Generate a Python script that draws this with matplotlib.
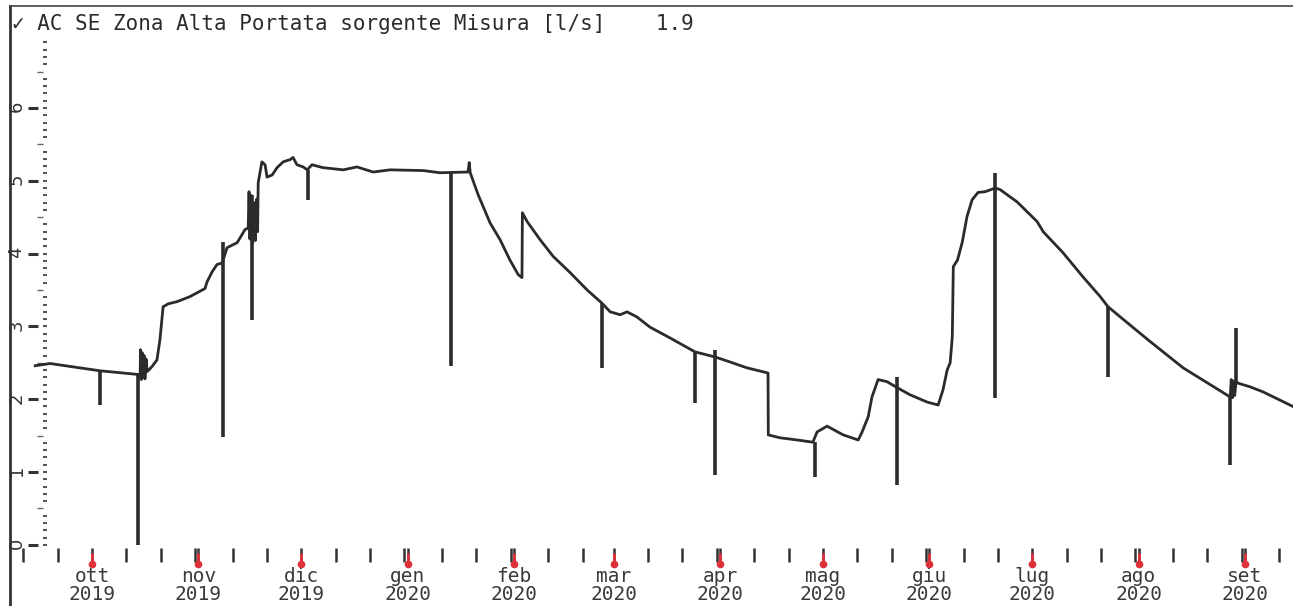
import matplotlib.pyplot as plt
import matplotlib.dates as mdates
from matplotlib.ticker import FixedLocator
import pandas as pd
import numpy as np

# Portata sorgente (l/s)
flow_time = [
    "2019-09-14 10:00", "2019-09-18 19:00", "2019-10-03 08:00", "2019-10-14 10:00",
    "2019-10-15 00:00", "2019-10-15 03:00", "2019-10-15 08:00", "2019-10-15 14:00",
    "2019-10-15 20:00", "2019-10-16 04:00", "2019-10-16 10:00", "2019-10-16 18:00",
    "2019-10-17 02:00", "2019-10-18 12:00", "2019-10-19 22:00", "2019-10-20 19:00",
    "2019-10-21 17:00", "2019-10-23 05:00", "2019-10-25 19:00", "2019-10-29 14:00",
    "2019-11-02 22:00", "2019-11-03 12:00", "2019-11-05 00:00", "2019-11-06 10:00",
    "2019-11-07 22:00", "2019-11-09 08:00", "2019-11-12 07:00", "2019-11-14 14:00",
    "2019-11-15 12:00", "2019-11-15 18:00", "2019-11-16 00:00", "2019-11-16 08:00",
    "2019-11-16 20:00", "2019-11-17 06:00", "2019-11-17 14:00", "2019-11-18 00:00",
    "2019-11-18 06:00", "2019-11-18 10:00", "2019-11-19 12:00", "2019-11-20 10:00",
    "2019-11-21 00:00", "2019-11-22 12:00", "2019-11-23 22:00", "2019-11-25 17:00",
    "2019-11-27 17:00", "2019-11-28 14:00", "2019-11-29 17:00", "2019-12-01 12:00",
    "2019-12-02 17:00", "2019-12-04 02:00", "2019-12-07 07:00", "2019-12-13 05:00",
    "2019-12-17 05:00", "2019-12-21 22:00", "2019-12-26 22:00", "2020-01-05 12:00",
    "2020-01-10 10:00", "2020-01-18 14:00", "2020-01-18 22:00", "2020-01-19 05:00",
    "2020-01-21 12:00", "2020-01-25 00:00", "2020-01-27 22:00", "2020-01-30 19:00",
    "2020-02-02 05:00", "2020-02-03 07:00", "2020-02-03 10:00", "2020-02-04 19:00",
    "2020-02-08 14:00", "2020-02-12 10:00", "2020-02-17 07:00", "2020-02-22 07:00",
    "2020-02-26 14:00", "2020-02-29 00:00", "2020-03-02 22:00", "2020-03-04 22:00",
    "2020-03-07 19:00", "2020-03-11 14:00", "2020-03-17 12:00", "2020-03-24 17:00",
    "2020-03-30 14:00", "2020-04-04 00:00", "2020-04-08 22:00", "2020-04-15 00:00",
    "2020-04-15 02:00", "2020-04-18 12:00", "2020-04-23 12:00", "2020-04-28 02:00",
    "2020-04-29 07:00", "2020-05-02 05:00", "2020-05-06 22:00", "2020-05-11 07:00",
    "2020-05-12 10:00", "2020-05-14 05:00", "2020-05-15 07:00", "2020-05-17 02:00",
    "2020-05-19 17:00", "2020-05-22 14:00", "2020-05-26 10:00", "2020-05-31 10:00",
    "2020-06-03 14:00", "2020-06-05 00:00", "2020-06-06 05:00", "2020-06-07 02:00",
    "2020-06-07 17:00", "2020-06-08 00:00", "2020-06-09 05:00", "2020-06-10 14:00",
    "2020-06-12 00:00", "2020-06-13 12:00", "2020-06-15 05:00", "2020-06-17 07:00",
    "2020-06-20 05:00", "2020-06-21 14:00", "2020-06-26 14:00", "2020-07-02 10:00",
    "2020-07-04 05:00", "2020-07-10 00:00", "2020-07-15 19:00", "2020-07-20 19:00",
    "2020-07-23 02:00", "2020-07-28 17:00", "2020-08-04 10:00", "2020-08-14 00:00",
    "2020-08-21 22:00", "2020-08-27 17:00", "2020-08-28 00:00", "2020-08-28 08:00",
    "2020-08-28 16:00", "2020-08-29 00:00", "2020-08-29 10:00", "2020-08-30 00:00",
    "2020-09-02 12:00", "2020-09-06 07:00", "2020-09-15 00:00",
]
flow_value = [
    2.46, 2.49, 2.39, 2.34,
    2.30, 2.68, 2.27, 2.64,
    2.30, 2.60, 2.28, 2.55,
    2.38, 2.45, 2.54, 2.82,
    3.27, 3.31, 3.34, 3.41,
    3.52, 3.61, 3.75, 3.85,
    3.87, 4.08, 4.15, 4.33,
    4.35, 4.85, 4.20, 4.80,
    4.15, 4.70, 4.18, 4.75,
    4.30, 4.97, 5.26, 5.22,
    5.05, 5.08, 5.18, 5.26,
    5.29, 5.32, 5.22, 5.19,
    5.15, 5.22, 5.18, 5.15,
    5.19, 5.12, 5.15, 5.14,
    5.11, 5.12, 5.25, 5.11,
    4.81, 4.42, 4.19, 3.91,
    3.71, 3.67, 4.56, 4.44,
    4.19, 3.96, 3.74, 3.50,
    3.32, 3.20, 3.16, 3.20,
    3.13, 2.99, 2.84, 2.65,
    2.58, 2.51, 2.43, 2.36,
    1.51, 1.47, 1.44, 1.41,
    1.55, 1.63, 1.51, 1.44,
    1.55, 1.76, 2.03, 2.27,
    2.24, 2.16, 2.06, 1.96,
    1.92, 2.13, 2.40, 2.50,
    2.86, 3.82, 3.91, 4.15,
    4.51, 4.74, 4.84, 4.85,
    4.90, 4.88, 4.71, 4.44,
    4.30, 4.01, 3.68, 3.41,
    3.27, 3.05, 2.79, 2.43,
    2.20, 2.03, 2.27, 2.02,
    2.25, 2.05, 2.24, 2.22,
    2.17, 2.10, 1.90,
]

# Picchi (letture anomale)
spike_time = ["2019-10-03 08:00", "2019-10-14 10:00", "2019-11-08 05:00", "2019-11-16 15:00",
              "2019-12-03 00:00", "2020-01-13 14:00", "2020-02-26 14:00", "2020-03-24 17:00",
              "2020-03-30 14:00", "2020-04-28 17:00", "2020-05-22 14:00", "2020-06-20 05:00",
              "2020-07-23 02:00", "2020-08-27 17:00", "2020-08-29 10:00"]
spike_top = [2.39, 2.34, 4.16, 4.80, 5.15, 5.12, 3.32, 2.65, 2.68, 1.41, 2.31, 5.11, 3.27, 2.03, 2.98]
spike_bottom = [1.92, 0.00, 1.48, 3.09, 4.74, 2.45, 2.43, 1.95, 0.96, 0.93, 0.82, 2.02, 2.31, 1.10, 2.25]

month_start = pd.date_range("2019-10-01", "2020-09-01", freq="MS")
month_names = ["ott", "nov", "dic", "gen", "feb", "mar", "apr", "mag", "giu", "lug", "ago", "set"]
month_labels = [f"{m}\n{d.year}" for m, d in zip(month_names, month_start)]
decade_ticks = [d for d in pd.date_range("2019-09-11", "2020-09-14", freq="D") if d.day in (1, 11, 21, 31)]

line_col = "#2b2b2b"
red = "#e0303a"

fig = plt.figure(figsize=(12.93, 6.06), dpi=100)
ax = fig.add_axes([10 / 1293, 0, 1283 / 1293, 600 / 606])

ax.plot(pd.to_datetime(flow_time), flow_value, color=line_col, lw=2)
ax.vlines(pd.to_datetime(spike_time), spike_bottom, spike_top, color=line_col, lw=2.6)

ax.set_xlim(pd.Timestamp("2019-09-07 02:00"), pd.Timestamp("2020-09-15"))
ax.set_ylim(-0.84, 7.40)
ax.set_xticks([])
ax.set_yticks([])
ax.spines["right"].set_visible(False)
ax.spines["bottom"].set_visible(False)
ax.spines["left"].set_linewidth(2)
ax.spines["left"].set_color("#333333")
ax.spines["top"].set_linewidth(1.2)
ax.spines["top"].set_color("#444444")

# scala verticale interna
yax = ax.secondary_yaxis((38 - 10) / 1283)
for sp in yax.spines.values():
    sp.set_visible(False)
yax.set_yticks(range(0, 7))
yax.tick_params(axis="y", which="major", direction="out", length=7, width=2.2,
                pad=2, labelsize=13, labelrotation=90, colors="#333333")
yminor = ax.secondary_yaxis((43 - 10) / 1283)
for sp in yminor.spines.values():
    sp.set_visible(False)
yminor.set_yticks(np.arange(0.5, 7, 1.0))
yminor.yaxis.set_minor_locator(FixedLocator(np.arange(0, 6.91, 0.1)))
yminor.tick_params(axis="y", which="major", direction="out", length=4, width=1,
                   labelleft=False, colors="#666666")
yminor.tick_params(axis="y", which="minor", direction="in", length=3, width=1.3,
                   colors="#444444")

# tacche ogni 10 giorni
xb = ax.secondary_xaxis((606 - 548) / 600)
for sp in xb.spines.values():
    sp.set_visible(False)
xb.set_xticks(mdates.date2num(decade_ticks))
xb.tick_params(axis="x", direction="out", length=10, width=1.8, colors="#333333",
               labelbottom=False)

# inizio mese in rosso con etichette
xr = ax.secondary_xaxis((606 - 553) / 600)
for sp in xr.spines.values():
    sp.set_visible(False)
xr.set_xticks(mdates.date2num(month_start), month_labels)
xr.tick_params(axis="x", direction="out", length=9, width=2, color=red, pad=1,
               labelsize=14, labelcolor="#3a3a3a")
for lab in xr.get_xticklabels():
    lab.set_family("DejaVu Sans Mono")
    lab.set_linespacing(0.92)
ax.plot(month_start, [(606 - 564) / 600] * len(month_start), "o", ms=4.5, color=red,
        transform=ax.get_xaxis_transform(), clip_on=False)

ax.text(0.0016, 0.987, "\u2713 AC SE Zona Alta Portata sorgente Misura [l/s]    1.9",
        transform=ax.transAxes, va="top", ha="left", fontsize=15, color="#2a2a2a",
        family=["DejaVu Sans Mono", "DejaVu Sans"])

fig.savefig("out.png", dpi=100)
